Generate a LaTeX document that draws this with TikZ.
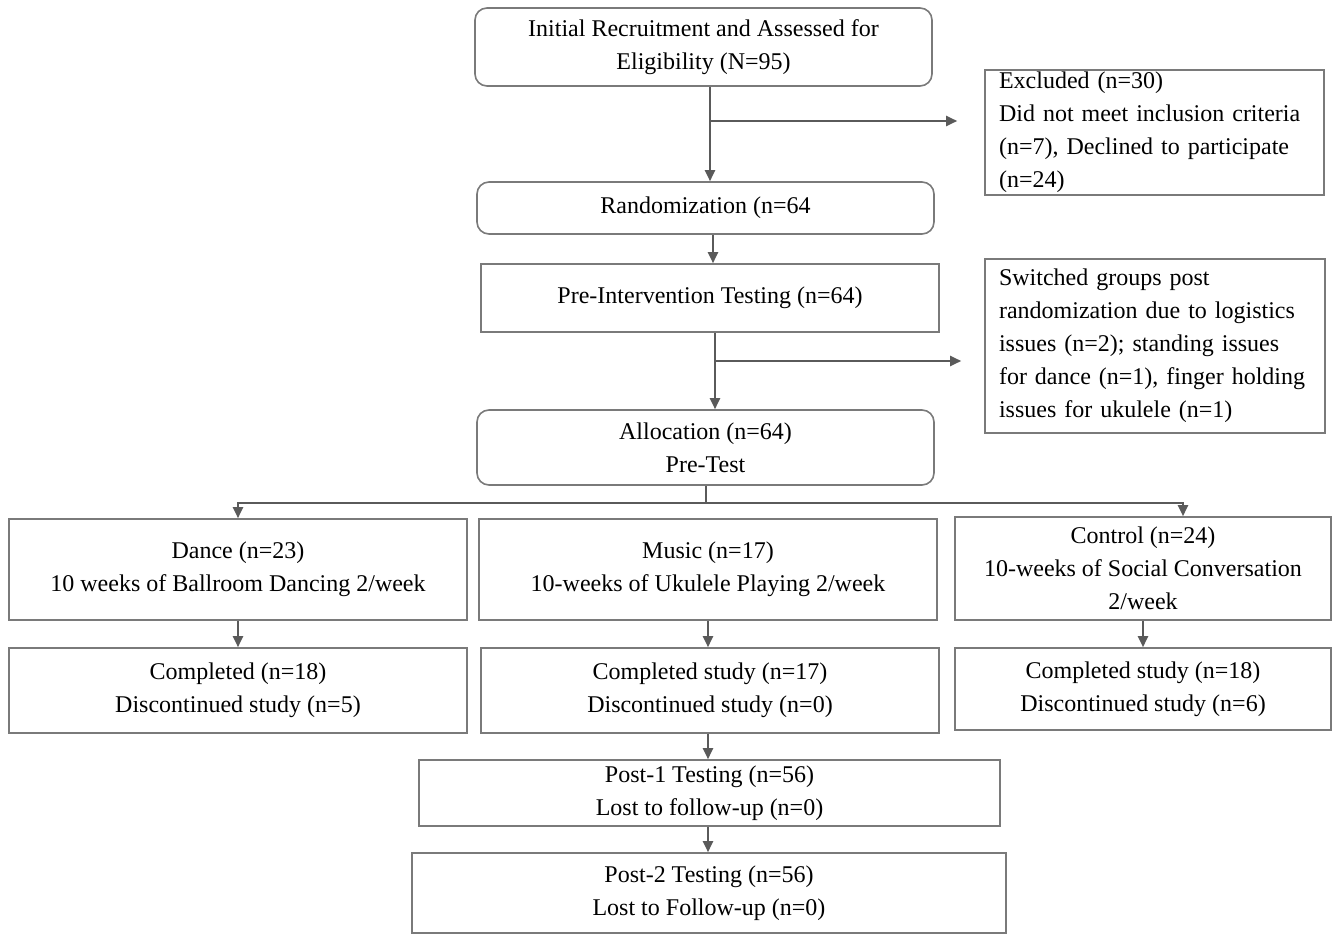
\documentclass[tikz,border=0pt]{standalone}
\usepackage{fontspec}
\setmainfont{Liberation Serif}
\usetikzlibrary{arrows.meta}
\definecolor{boxline}{HTML}{7A7A7A}
\definecolor{arrline}{HTML}{5A5A5A}
\tikzset{
  base/.style={draw=boxline, line width=0.8pt, fill=white, text=black, inner sep=0pt,
    font=\fontsize{12}{16.5}\selectfont, align=center},
  sq/.style={base},
  rnd/.style={base, rounded corners=6pt},
  leftbox/.style={base, align=left, inner xsep=7pt},
  arr/.style={draw=arrline, line width=1pt, -{Triangle[length=5.5pt,width=5pt]}},
  ln/.style={draw=arrline, line width=1pt},
}
\begin{document}
\begin{tikzpicture}[x=0.5pt,y=-0.5pt]
\useasboundingbox (0,0) rectangle (1332,935);
% boxes
\node[rnd, minimum width=228.5pt, minimum height=39pt] (init) at (703.5,47)
  {Initial Recruitment and Assessed for\\Eligibility (N=95)};
\node[leftbox, text width=155.5pt, minimum height=62.5pt] (excl) at (1154.5,132.5)
  {Excluded (n=30)\\Did not meet inclusion criteria\\(n=7), Declined to participate\\(n=24)};
\node[rnd, minimum width=228.5pt, minimum height=26pt] (rand) at (705.5,208)
  {Randomization (n=64};
\node[sq, minimum width=229pt, minimum height=34pt] (pre) at (710,298)
  {Pre-Intervention Testing (n=64)};
\node[leftbox, text width=156pt, minimum height=87pt] (sw) at (1155,346)
  {Switched groups post\\randomization due to logistics\\issues (n=2); standing issues\\for dance (n=1), finger holding\\issues for ukulele (n=1)};
\node[rnd, minimum width=228.5pt, minimum height=37.5pt] (alloc) at (705.5,447.5)
  {Allocation (n=64)\\Pre-Test};
\node[sq, minimum width=229pt, minimum height=50.5pt] (dance) at (238,569.5)
  {Dance (n=23)\\10 weeks of Ballroom Dancing 2/week};
\node[sq, minimum width=229pt, minimum height=50.5pt] (music) at (708,569.5)
  {Music (n=17)\\10-weeks of Ukulele Playing 2/week};
\node[sq, minimum width=188pt, minimum height=51.5pt] (ctrl) at (1143,568.5)
  {Control (n=24)\\10-weeks of Social Conversation\\2/week};
\node[sq, minimum width=229pt, minimum height=42.5pt] (cdance) at (238,690.5)
  {Completed (n=18)\\Discontinued study (n=5)};
\node[sq, minimum width=229pt, minimum height=42.5pt] (cmusic) at (710,690.5)
  {Completed study (n=17)\\Discontinued study (n=0)};
\node[sq, minimum width=188pt, minimum height=41pt] (cctrl) at (1143,689)
  {Completed study (n=18)\\Discontinued study (n=6)};
\node[sq, minimum width=290.5pt, minimum height=33pt] (post1) at (709.5,793)
  {Post-1 Testing (n=56)\\Lost to follow-up (n=0)};
\node[sq, minimum width=297pt, minimum height=40pt] (post2) at (709,893)
  {Post-2 Testing (n=56)\\Lost to Follow-up (n=0)};
% connector helper coordinates
\coordinate (j1) at (710,121);
\coordinate (cR) at (713,0);
\coordinate (j2) at (715,361);
\coordinate (j3) at (706,503);
\coordinate (j4) at (1183,503);
\coordinate (cM) at (708,0);
% connectors
\draw[arr] (init.south -| j1) -- (rand.north -| j1);
\draw[arr, shorten >=13.5pt] (j1) -- (excl.west |- j1);
\draw[arr] (rand.south -| cR) -- (pre.north -| cR);
\draw[arr] (pre.south -| j2) -- (alloc.north -| j2);
\draw[arr, shorten >=11.5pt] (j2) -- (sw.west |- j2);
\draw[ln] (alloc.south -| j3) -- (j3);
\draw[arr] (j3) -| (dance.north);
\draw[arr] (j3) -| (ctrl.north -| j4);
\draw[arr] (dance.south) -- (cdance.north);
\draw[arr] (music.south) -- (cmusic.north -| music.south);
\draw[arr] (ctrl.south) -- (cctrl.north);
\draw[arr] (cmusic.south -| cM) -- (post1.north -| cM);
\draw[arr] (post1.south -| cM) -- (post2.north -| cM);
\end{tikzpicture}
\end{document}
